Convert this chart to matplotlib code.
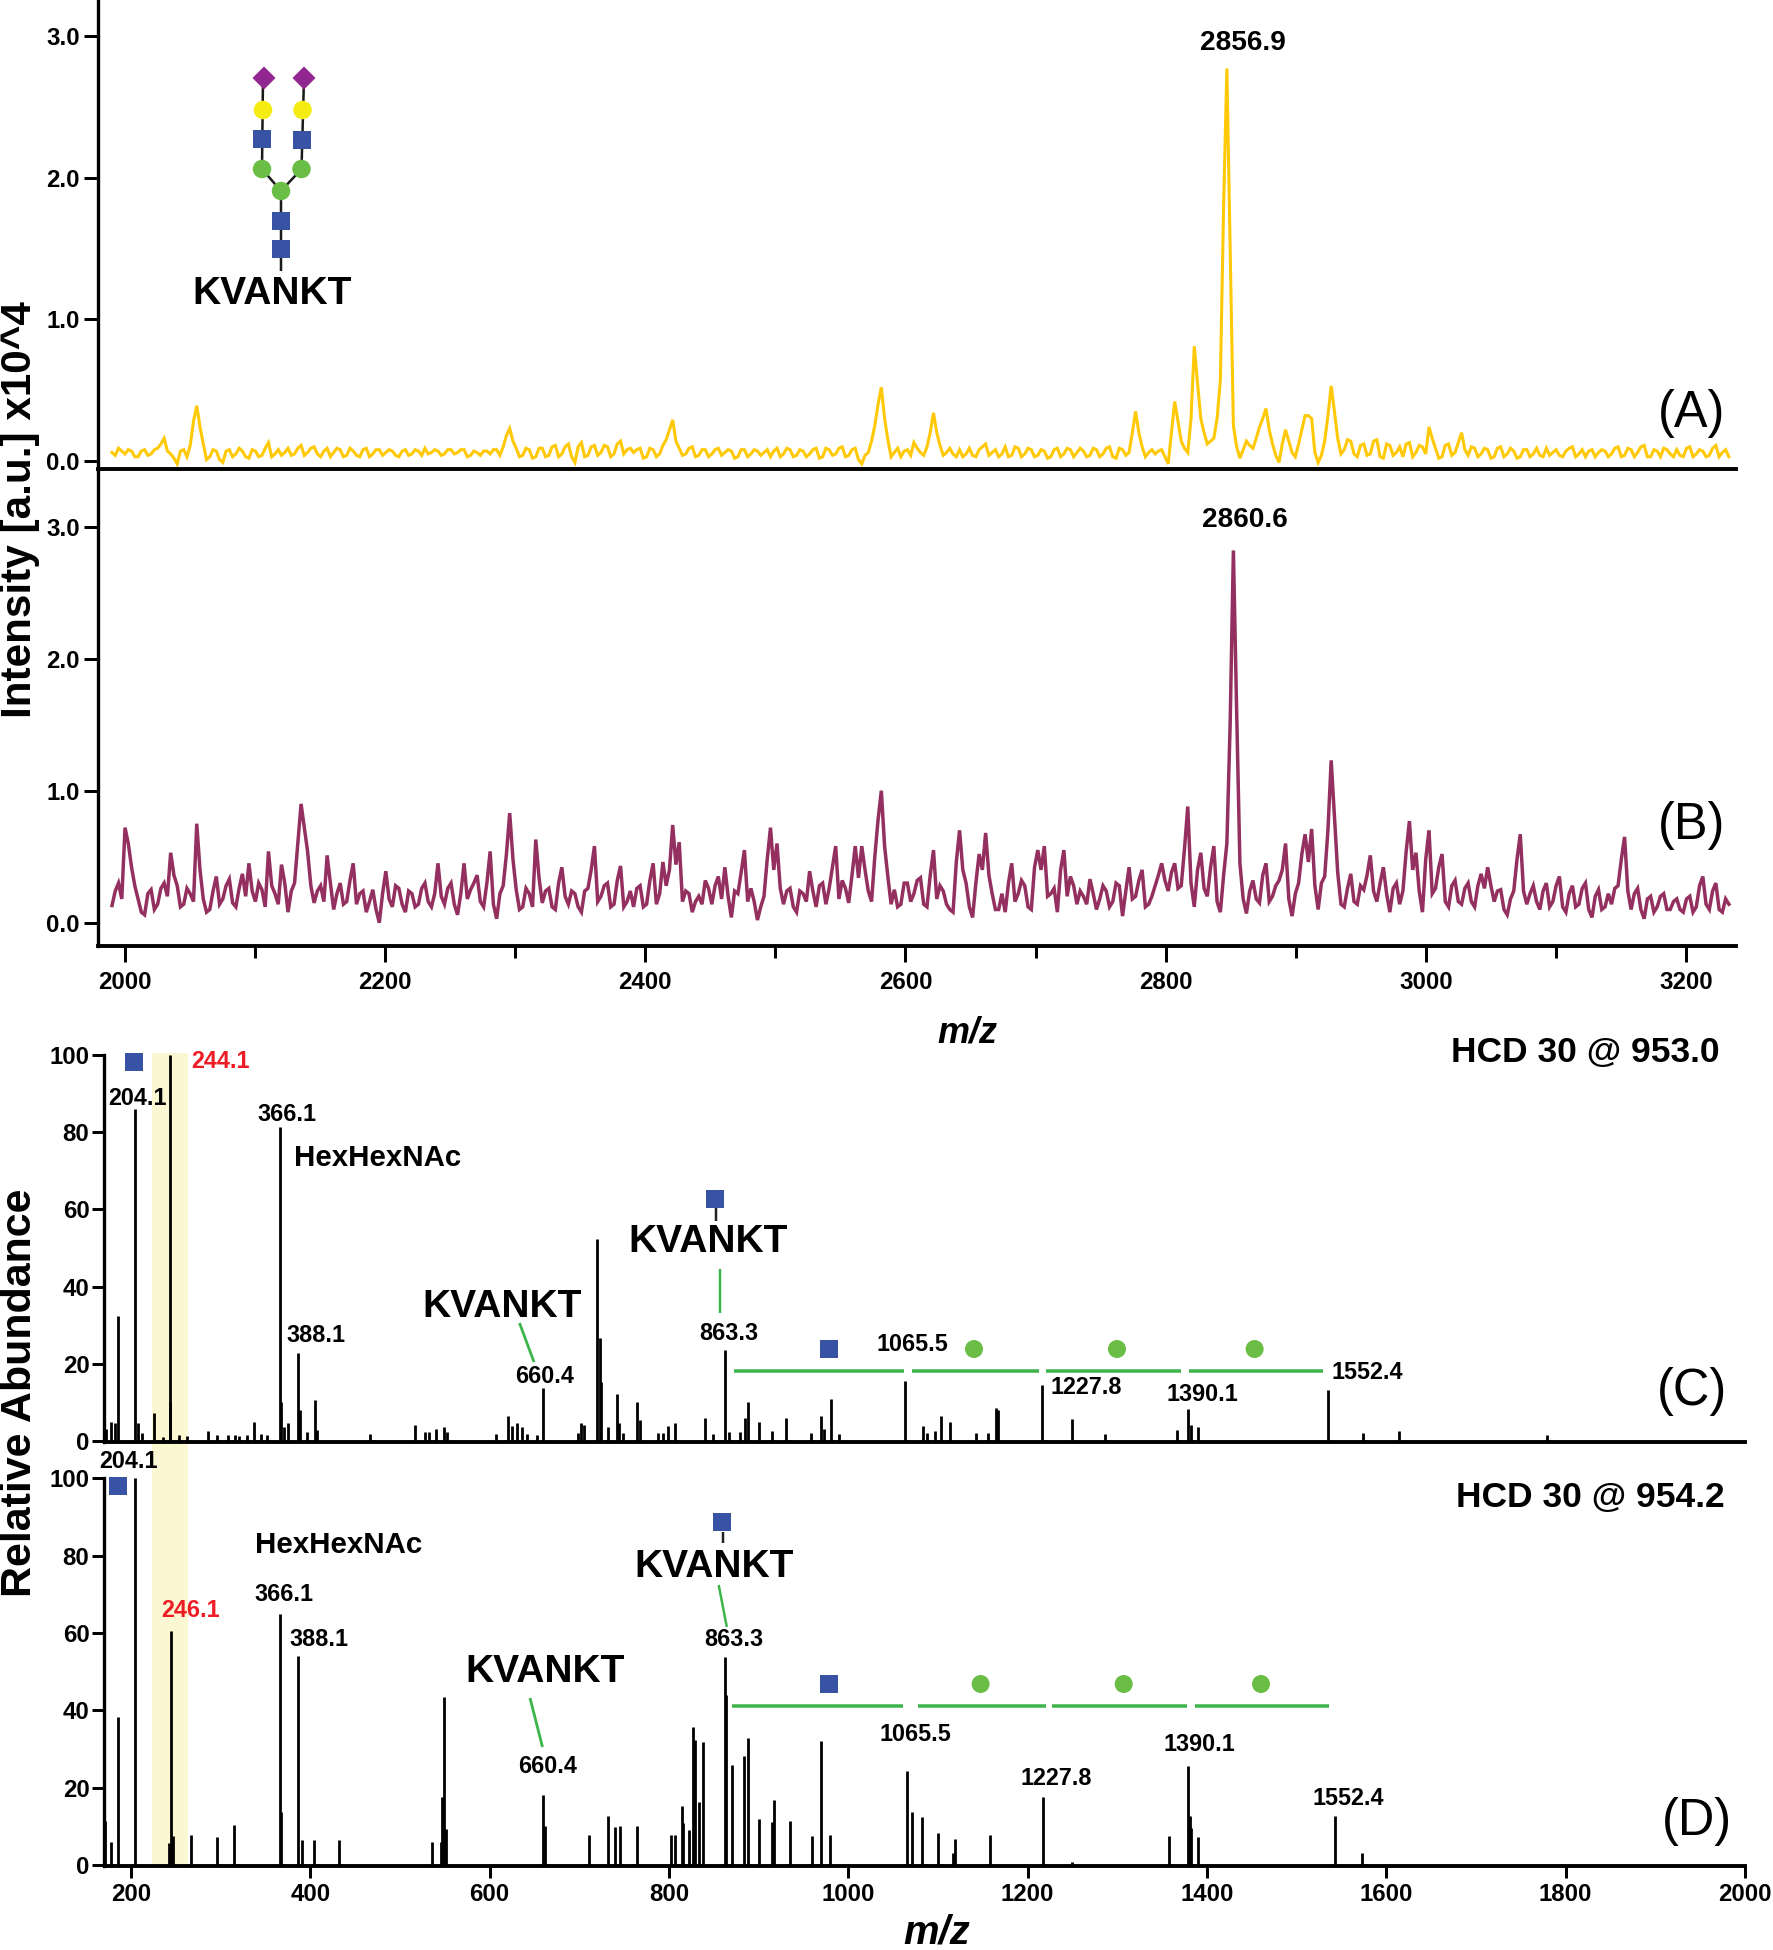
import numpy as np
import matplotlib
matplotlib.use("Agg")
import matplotlib.pyplot as plt
from matplotlib.patches import Rectangle, Circle, Polygon

plt.rcParams['font.family'] = ['Liberation Sans', 'DejaVu Sans']

W, H = 1774, 1950
PT = 0.72  # pixels -> points at dpi 100

# ---- MALDI spectra, intensity x10^-2 of the 10^4 scale.
# *_on: readings on the 5 m/z grid from 1990; *_mid: readings half-way between them
MS_START, MS_STEP = 1990, 5.012
intensity_a_on = [
    6,9,5,7,3,8,5,9,16,5,
    -2,8,11,39,12,3,7,-1,8,5,
    7,2,7,4,13,5,4,9,5,11,
    6,10,3,9,6,8,4,7,3,9,
    5,8,6,7,3,8,5,7,9,6,
    7,5,8,6,8,4,6,7,5,8,
    10,23,9,4,8,3,9,4,11,5,
    12,-1,13,4,11,6,10,5,14,8,
    6,9,3,8,5,15,29,9,5,10,
    4,8,5,9,6,7,3,8,5,7,
    6,3,9,5,8,4,7,5,9,3,
    8,5,10,4,9,-2,6,25,52,15,
    6,3,8,13,6,10,34,11,6,5,
    8,5,4,8,12,6,3,10,4,9,
    5,8,4,7,3,9,5,8,6,7,
    4,8,5,10,2,8,6,35,10,6,
    5,8,-2,42,14,6,81,30,12,16,
    57,277,25,2,14,9,24,37,12,-1,
    22,6,12,32,30,-1,14,53,16,8,
    14,3,12,5,15,2,11,6,3,13,
    6,10,24,9,3,12,6,20,4,9,
    5,8,3,10,5,7,3,8,5,4,
    9,6,4,7,10,5,3,8,6,7,
    5,10,4,8,6,11,3,7,9,5,
    8,3,10,5,7,4,11,6,3,
]
intensity_a_mid = [
    4,7,8,3,7,4,8,12,7,2,
    7,3,28,24,1,8,1,7,3,9,
    3,8,3,9,3,8,6,4,9,4,
    9,5,7,3,9,3,9,4,8,3,
    8,4,8,4,7,4,8,4,5,8,
    4,8,5,8,3,7,4,7,8,4,
    18,14,3,9,2,9,3,10,3,10,
    3,10,3,10,4,11,3,12,5,9,
    8,2,9,3,11,22,14,4,9,3,
    8,3,8,4,8,2,8,3,8,4,
    8,7,3,9,3,8,3,8,2,9,
    4,9,3,8,1,4,14,40,30,3,
    9,7,4,9,4,20,20,4,9,3,
    3,9,3,10,4,8,5,3,10,3,
    9,3,8,2,8,3,9,3,9,3,
    9,3,9,3,9,4,20,20,3,8,
    7,3,20,28,9,30,55,20,14,30,
    180,150,10,8,11,16,30,22,4,12,
    14,3,22,32,6,4,32,35,5,15,
    5,11,4,14,3,12,4,10,12,3,
    11,5,16,2,11,4,13,8,10,3,
    9,2,9,3,9,2,8,3,9,3,
    4,8,3,9,3,8,7,3,8,3,
    9,3,9,3,10,3,8,3,8,3,
    4,9,3,8,3,9,3,8,
]
intensity_b_on = [
    13,30,72,42,18,6,25,14,30,53,
    28,14,22,75,18,10,35,18,33,12,
    37,45,16,25,54,22,44,8,30,90,
    54,15,28,51,10,30,16,45,22,8,
    25,0,39,12,26,8,22,14,30,12,
    45,14,30,6,45,25,36,12,54,3,
    28,83,25,12,22,63,15,26,10,42,
    14,22,8,26,58,20,30,14,43,16,
    12,28,14,45,22,28,74,61,24,8,
    20,32,14,35,42,4,22,55,26,2,
    20,72,60,14,26,8,22,39,12,30,
    26,58,32,15,58,58,24,50,100,35,
    25,14,30,22,34,12,55,28,14,8,
    70,30,4,52,68,22,10,8,45,22,
    28,10,55,58,22,8,55,35,14,20,
    33,10,28,12,30,5,42,20,40,14,
    28,45,24,45,28,88,12,53,20,58,
    8,60,282,45,7,32,15,45,20,32,
    60,5,30,67,71,10,35,123,38,12,
    37,14,25,51,16,42,8,30,24,77,
    53,8,70,26,52,12,32,14,30,12,
    37,42,16,25,6,24,67,14,28,10,
    30,16,35,8,28,14,30,4,25,12,
    14,28,65,10,26,3,20,12,22,10,
    18,8,20,12,35,10,30,8,14,
]
intensity_b_mid = [
    24,18,60,28,8,22,10,26,20,36,
    12,26,16,40,8,24,14,28,15,26,
    20,24,30,12,28,14,30,24,60,72,
    28,24,16,30,22,14,32,14,24,16,
    10,22,18,28,14,24,12,26,16,22,
    20,26,14,22,18,30,16,30,14,22,
    52,48,10,26,12,34,24,12,30,20,
    24,12,24,40,16,28,12,32,12,24,
    26,12,32,14,46,40,44,16,22,16,
    14,26,28,18,20,24,38,16,16,12,
    48,40,26,24,12,24,16,24,28,14,
    42,18,26,36,34,40,16,78,58,14,
    12,30,16,32,14,36,18,24,10,46,
    40,12,30,40,36,10,22,30,16,32,
    12,42,40,20,26,40,20,28,24,14,
    22,18,24,16,28,24,18,32,12,20,
    36,32,38,26,56,30,40,26,42,16,
    36,150,160,18,24,18,36,16,28,40,
    18,22,52,46,28,30,70,80,14,26,
    16,28,36,24,30,22,26,14,54,40,
    24,48,22,42,16,28,16,26,16,28,
    26,28,24,10,18,48,24,22,16,24,
    12,28,12,22,12,26,10,20,10,22,
    26,48,24,22,10,18,8,20,10,16,
    10,18,8,28,14,24,10,18,
]
# ---- MS/MS stick spectra
mz_c = [172,177.5,182,185,204,207.6,212,225.5,236,243.4,244,254,262,285.7,296,308.7,316,321,329,337,345,351.6,
        365.7,367,370.8,375,386.8,388.7,396,405.4,408,466.8,517,527.6,532.7,539.8,548.7,552,607.6,620.4,625,630,
        636.4,641.5,653,659.4,698.5,701.7,705.5,720.2,722.8,724.7,732.4,742,744,749,764.4,767.6,788,793,799,807,
        840.6,849,863,866.8,879.6,884.5,888.5,900.4,914.5,930.5,958,969,973,981,990,1063,1083.4,1087.4,1096.2,
        1103.5,1113,1142,1156,1164.8,1166.5,1215.5,1249.4,1285.7,1367,1379,1382.4,1390.4,1534.7,1574.2,1614.5,1779]
ab_c = [3,5,4.6,32.4,86,4.7,2,7.3,1,100,10,1.5,1.4,2.7,1.5,1.5,1.5,1.3,1.5,5,1.7,1.5,
        81.4,10,3.7,4.6,22.7,8,2.4,10.6,2.8,1.7,4.1,2.4,2.4,3.1,3.7,2.4,1.7,6.6,4,4.6,
        3.5,1.7,1.5,13.6,2.2,4.6,4.1,52.2,26.6,15.4,3.7,12.2,4.6,2.2,10,5.4,2.2,2,3.9,4.6,
        6,1.8,23.6,2.4,2.4,5.9,10.2,5,2.7,5.9,2.2,6.6,3,10.8,1.8,15.5,3.9,2.2,2.7,
        6.5,5,2.2,2.2,8.5,8,14.5,5.6,1.8,2.8,8.2,4.1,3.5,13.2,2.2,2.7,1.6]
mz_d = [171,178,185,204,242,244.7,247,266.5,296,315,365.7,367,386.8,390.6,404,431.6,535.3,545.5,546.8,548.7,551.3,
        659.4,662,711.3,732.4,740,745,764.4,802,806.6,814.3,815.6,822,826.5,829,833.5,838,863,864,870.6,884,888.6,
        900,914.8,916.7,935,959.6,970,980,1065.6,1071.3,1081.7,1099.5,1116.4,1118.8,1157.5,1217,1249.4,1357.4,
        1379,1380.8,1382.5,1389.6,1542.8,1573.4]
ab_d = [11.5,6,38.4,100,5.7,60.5,7.6,7.7,7.2,10.4,65,13.7,54,6.4,6.5,6.5,6,6,17.7,43.5,9.3,
        18,10,7.7,12.8,9.7,10,10,7.8,7.8,15.3,10.9,9,35.6,32.4,16.3,31.8,53.7,44,25.8,28.3,32.8,
        11.9,11,16.9,11.4,7.4,32.2,7.7,24.2,13.7,12.4,8.3,3,6.7,7.8,17.7,0.7,7.6,
        25.7,12.6,9.5,7.2,12.8,3.1]

ms_major = [2000,2200,2400,2600,2800,3000,3200]
ms_minor = [2100,2300,2500,2700,2900,3100]
ms_yticks = [0,1,2,3]
msms_xticks = [200,400,600,800,1000,1200,1400,1600,1800,2000]
msms_yticks = [0,20,40,60,80,100]

BLUE, GREEN, YELLOW, PURPLE = '#3953A4', '#6ABD45', '#F5EC13', '#92278F'
LINEG = '#3DB54A'


def make_axes(left, right, top, bottom, xlim, ylim, zorder=2):
    ax = fig.add_axes([left/W, 1-bottom/H, (right-left)/W, (bottom-top)/H], zorder=zorder)
    ax.set_xlim(*xlim); ax.set_ylim(*ylim)
    ax.patch.set_visible(False)
    for s in ('top', 'right'):
        ax.spines[s].set_visible(False)
    ax.spines['left'].set_linewidth(2.4)
    ax.spines['bottom'].set_linewidth(2.8)
    ax.tick_params(axis='y', length=14*PT, width=3*PT, pad=4*PT, labelsize=24*PT)
    return ax


def interleave(on, mid):
    out = np.empty(len(on)+len(mid))
    out[0::2] = on
    out[1::2] = mid
    return out/100


fig = plt.figure(figsize=(W/100, H/100), dpi=100, facecolor='white')

# background and foreground layers in reference pixels
bg = fig.add_axes([0,0,1,1], zorder=0); bg.set_xlim(0,W); bg.set_ylim(H,0); bg.axis('off')
ov = fig.add_axes([0,0,1,1], zorder=5); ov.set_xlim(0,W); ov.set_ylim(H,0); ov.axis('off')
bg.add_patch(Rectangle((152,1053), 36, 813, fc='#FBF7D3', ec='none'))

# Panels A and B
PX_MZ = 1.3008
xlim_ms = (2000-(125-98)/PX_MZ, 3200+(1736-1686)/PX_MZ)
ax_a = make_axes(98,1736,0,469,xlim_ms,(-(469-461)/141.7,461/141.7))
ax_b = make_axes(98,1736,469,946,xlim_ms,(-(946-922.7)/132,(922.7-469)/132))
y_a = interleave(intensity_a_on, intensity_a_mid)
y_b = interleave(intensity_b_on, intensity_b_mid)
x_a = MS_START + MS_STEP/2*np.arange(len(y_a))
x_b = MS_START + MS_STEP/2*np.arange(len(y_b))
ax_a.plot(x_a, y_a, color='#FFC907', lw=2.2, solid_joinstyle='miter')
ax_b.plot(x_b, y_b, color='#93305F', lw=2.5, solid_joinstyle='miter')
for ax in (ax_a, ax_b):
    ax.set_yticks(ms_yticks)
    ax.set_yticklabels([f'{v:.1f}' for v in ms_yticks], fontweight='bold', fontsize=24*PT)
ax_a.set_xticks([])
ax_b.set_xticks(ms_major)
ax_b.set_xticklabels([str(v) for v in ms_major], fontweight='bold', fontsize=24*PT)
ax_b.set_xticks(ms_minor, minor=True)
ax_b.tick_params(axis='x', which='major', length=16*PT, width=3*PT, pad=9*PT)
ax_b.tick_params(axis='x', which='minor', length=12*PT, width=3*PT)

# Panels C and D
PX_MSMS = 0.897
xlim_msms = (200-(131-104.5)/PX_MSMS, 2000)
ax_c = make_axes(104.5,1745,1054.5,1442,xlim_msms,(-0.26,100.1))
ax_d = make_axes(104.5,1745,1478,1866,xlim_msms,(-0.26,100.1))
ax_c.vlines(mz_c, 0, ab_c, color='black', lw=2.0)
ax_d.vlines(mz_d, 0, ab_d, color='black', lw=2.0)
for ax in (ax_c, ax_d):
    ax.set_yticks(msms_yticks)
    ax.set_yticklabels([str(v) for v in msms_yticks], fontweight='bold', fontsize=24*PT)
    ax.tick_params(axis='y', length=12*PT, pad=3*PT)
ax_c.set_xticks([])
ax_d.set_xticks(msms_xticks)
ax_d.set_xticklabels([str(v) for v in msms_xticks], fontweight='bold', fontsize=24*PT)
ax_d.tick_params(axis='x', length=12*PT, width=3*PT, pad=5*PT)


def txt(x, y, s, size, weight='bold', color='black', **kw):
    ov.text(x, y+0.08*size, s, fontsize=size*PT, fontweight=weight, color=color,
            ha=kw.pop('ha','center'), va=kw.pop('va','center'), **kw)

def square(x, y, s=18):
    ov.add_patch(Rectangle((x-s/2,y-s/2), s, s, fc=BLUE, ec='none', zorder=4))

def circle(x, y, col=GREEN, d=18):
    ov.add_patch(Circle((x,y), d/2, fc=col, ec='none', zorder=4))

def diamond(x, y, d=23):
    ov.add_patch(Polygon([(x-d/2,y),(x,y-d/2),(x+d/2,y),(x,y+d/2)], fc=PURPLE, ec='none', zorder=4))

def seg(x0, y0, x1, y1, col='#1a1a1a', w=2.5):
    ov.plot([x0,x1],[y0,y1], color=col, lw=w*PT, solid_capstyle='butt', zorder=3)

# axis titles
ov.text(20, 510, 'Intensity [a.u.] x10^4', fontsize=42.3*PT, fontweight='bold', rotation=90, ha='center', va='center')
ov.text(20, 1393, 'Relative Abundance', fontsize=43*PT, fontweight='bold', rotation=90, ha='center', va='center')
ov.text(967, 1033, 'm/z', fontsize=36*PT, fontweight='bold', fontstyle='italic', ha='center', va='center')
ov.text(937, 1933, 'm/z', fontsize=40*PT, fontweight='bold', fontstyle='italic', ha='center', va='center')

# glycan cartoon
seg(281,271,281,191); seg(281,191,262,169); seg(281,191,301.5,169)
seg(262,169,263,78); seg(301.5,169,304,78)
diamond(264,78); diamond(304,78)
circle(263,110,YELLOW,18.5); circle(302.5,110,YELLOW,18.5)
square(262,139); square(302,139.5)
circle(262,169,GREEN,18.5); circle(301.5,169,GREEN,18.5); circle(281,191,GREEN,18.5)
square(281,221); square(281,249)
txt(272.5, 291, 'KVANKT', 39)

# panel A and B labels
txt(1243, 41, '2856.9', 28)
txt(1245, 518, '2860.6', 28)
txt(1692, 409, '(A)', 50.5, weight='normal')
txt(1692, 821, '(B)', 50.5, weight='normal')
txt(1692, 1387, '(C)', 50.5, weight='normal')
txt(1697, 1817, '(D)', 50.5, weight='normal')
txt(1585, 1050, 'HCD 30 @ 953.0', 35.4)
txt(1590, 1495, 'HCD 30 @ 954.2', 35.4)

# panel C annotations
txt(221, 1060, '244.1', 23.4, color='#EE1C25')
txt(138, 1097, '204.1', 23.4)
txt(287, 1113, '366.1', 23.4)
txt(378, 1156, 'HexHexNAc', 29.5)
txt(316, 1334, '388.1', 23.4)
txt(502, 1304, 'KVANKT', 39)
txt(545, 1375, '660.4', 23.4)
txt(708, 1239, 'KVANKT', 39)
txt(729, 1332, '863.3', 23.4)
txt(912, 1343, '1065.5', 23.4)
txt(1086, 1386, '1227.8', 23.4)
txt(1202, 1393, '1390.1', 23.4)
txt(1367, 1371, '1552.4', 23.4)
square(134, 1062); square(715, 1199); square(829.5, 1349)
seg(716,1208,716,1221,'#222222',2.5)
seg(720,1269,720,1313,LINEG,2.5)
seg(519.5,1323,534,1362,LINEG,2.8)
for a, b in [(734,904),(912,1039),(1046,1181),(1189,1323)]:
    seg(a,1371,b,1371,LINEG,3.5)
for x in (974,1117,1254.6):
    circle(x,1349,GREEN,18)

# panel D annotations
txt(129, 1460, '204.1', 23.4)
square(117.7, 1486)
txt(339, 1543, 'HexHexNAc', 29.5)
txt(190.6, 1609, '246.1', 23.4, color='#EE1C25')
txt(284, 1593, '366.1', 23.4)
txt(318.6, 1638, '388.1', 23.4)
square(722, 1522)
seg(723,1532,723,1543,'#222222',2.5)
txt(713.6, 1564, 'KVANKT', 39)
seg(718.7,1585,726.8,1627,LINEG,2.5)
txt(733.6, 1638, '863.3', 23.4)
txt(545, 1669, 'KVANKT', 39)
seg(530,1698,542.5,1747,LINEG,2.8)
txt(548, 1765, '660.4', 23.4)
square(829, 1684)
for a, b in [(732.5,903),(917.7,1045.6),(1052,1187),(1194.6,1329)]:
    seg(a,1706,b,1706,LINEG,3.5)
for x in (980.6,1123.7,1261):
    circle(x,1684,GREEN,18)
txt(915, 1733, '1065.5', 23.4)
txt(1055.8, 1777, '1227.8', 23.4)
txt(1199, 1743, '1390.1', 23.4)
txt(1348, 1797, '1552.4', 23.4)

fig.savefig('out.png', dpi=100, facecolor='white')
